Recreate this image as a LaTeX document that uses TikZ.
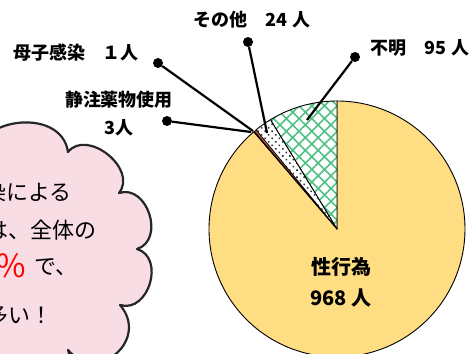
\documentclass[tikz,border=0pt]{standalone}
\usepackage{fontspec}
\setmainfont{Noto Sans CJK JP}
\usetikzlibrary{patterns.meta}
\definecolor{sexualfill}{HTML}{FFDD82}
\definecolor{cloudpink}{HTML}{F9DDE5}
\definecolor{cloudline}{HTML}{262626}
\definecolor{hatchgreen}{HTML}{4FC283}
\definecolor{drugbrown}{HTML}{C65A43}
\definecolor{motherbrown}{HTML}{8C4A2F}
\tikzset{
  slice/.style={draw=black, line width=0.9pt, line join=round},
  leader/.style={line width=2.2pt},
  dotend/.style={circle, fill=black, inner sep=0pt, minimum size=10pt},
  catlabel/.style={font=\fontsize{18}{28}\selectfont\bfseries, inner sep=0pt},
  cloudtext/.style={font=\fontsize{22}{26}\selectfont, anchor=east, inner sep=0pt},
}
\begin{document}
\begin{tikzpicture}[x=1pt, y=1pt]
    \useasboundingbox (0,0) rectangle (475,354);

    % cloud
    \draw[cloudline, line width=2.2pt, fill=cloudpink, line join=round]
        (-25,189) to[bend left=90, looseness=1.3] (68,202)
        to[bend left=90, looseness=1.2] (119,161)
        to[bend left=90, looseness=1.3] (137,105)
        to[bend left=90, looseness=1.3] (120,49)
        to[bend left=90, looseness=1.7] (68,4)
        to[bend left=90, looseness=1.3] (-20,-30)
        -- (-40,-30) -- (-40,189) -- cycle;
    \node[cloudtext] (line1) at (72,162) {染による};
    \node[cloudtext] (line2) at (97,124) {は、全体の};
    \node[cloudtext, text=red, font=\fontsize{32}{34}\selectfont] (percent) at (26,88) {\%};
    \node[cloudtext] (line3) at (78,87) {で、};
    \node[cloudtext] (line4) at (53,39) {多い！};

    % pie
    \coordinate (C) at (337,125);
    \draw[slice, fill=sexualfill] (C) -- ++(130.59:128) arc[start angle=130.59, end angle=450, radius=128] -- cycle;
    \draw[slice, preaction={fill=white}, pattern={Hatch[angle=45, distance=9pt, line width=1.6pt]}, pattern color=hatchgreen]
        (C) -- ++(90:128) arc[start angle=90, end angle=121.35, radius=128] -- cycle;
    \draw[slice, preaction={fill=white}, pattern={Dots[angle=45, distance=5pt, radius=1.1pt]}, pattern color=black!80]
        (C) -- ++(121.35:128) arc[start angle=121.35, end angle=129.27, radius=128] -- cycle;
    \draw[slice, line width=0.5pt, fill=drugbrown] (C) -- ++(129.27:128) arc[start angle=129.27, end angle=130.26, radius=128] -- cycle;
    \draw[slice, line width=0.5pt, fill=motherbrown] (C) -- ++(130.26:128) arc[start angle=130.26, end angle=130.59, radius=128] -- cycle;
    \node[catlabel, align=center, font=\fontsize{20}{31}\selectfont\bfseries] (sexual) at (341,72) {性行為\\968 人};

    % leaders
    \coordinate (unknownIn) at (307,234);
    \coordinate (otherIn) at (267,221);
    \coordinate (motherIn) at (253,223);
    \coordinate (drugIn) at (251,222);
    \node[dotend] (unknownDot) at (355,297) {};
    \node[dotend] (otherDot) at (248,312) {};
    \node[dotend] (motherDot) at (158,291) {};
    \node[dotend] (drugDot) at (167,233) {};
    \draw[leader] (unknownDot) -- (unknownIn);
    \draw[leader] (otherDot) -- (otherIn);
    \draw[leader] (motherDot) -- (motherIn);
    \draw[leader] (drugDot) -- (drugIn);

    \node[catlabel] (unknown) at (420,306) {不明　95 人};
    \node[catlabel] (other) at (252,334) {その他　24 人};
    \node[catlabel] (mother) at (76,301) {母子感染　１人};
    \node[catlabel, align=center] (drug) at (119,240) {静注薬物使用\\3人};
\end{tikzpicture}
\end{document}
